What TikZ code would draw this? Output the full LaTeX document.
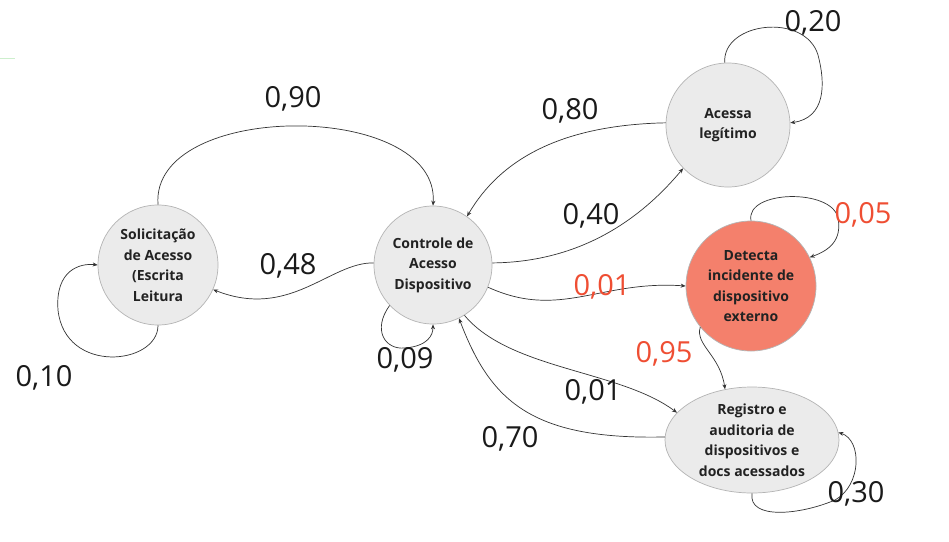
\documentclass[tikz,border=0pt]{standalone}
\usepackage{fontspec}
\setmainfont{Open Sans}
\usetikzlibrary{arrows.meta,shapes.geometric}
\definecolor{nodefill}{HTML}{EBEBEB}
\definecolor{nodeborder}{HTML}{B4B4B4}
\definecolor{nodetext}{HTML}{222222}
\definecolor{salmon}{HTML}{F4806C}
\definecolor{edgecol}{HTML}{333333}
\definecolor{lblcol}{HTML}{1A1A1A}
\definecolor{redtext}{HTML}{EF4E33}
\definecolor{faintgreen}{HTML}{CDEFCD}
\begin{document}
\begin{tikzpicture}[x=1pt,y=-1pt,
  state/.style={circle,draw=nodeborder,fill=nodefill,line width=0.7pt,inner sep=0pt,
    align=center,font=\bfseries\fontsize{14}{20.5}\selectfont,text=nodetext},
  edge/.style={draw=edgecol,line width=0.7pt,-{Stealth[length=5pt,width=4pt]}},
  lbl/.style={font=\fontsize{29}{30}\selectfont,text=lblcol,inner sep=0pt,text depth=0pt},
  redlbl/.style={lbl,text=redtext}
]
\useasboundingbox (0,0) rectangle (949,541);
\fill[white] (0,0) rectangle (949,541);
\coordinate (g1) at (0,58.5);
\coordinate (g2) at (15,58.5);
\draw[faintgreen,line width=0.8pt] (g1) -- (g2);

% nodes
\node[state,minimum size=120pt] (S) at (158,265) {Solicitação\\de Acesso\\(Escrita\\Leitura};
\node[state,minimum size=118pt] (C) at (433,265) {Controle de\\Acesso\\Dispositivo};
\node[state,minimum size=124pt] (A) at (728,125) {Acessa\\legítimo};
\node[state,fill=salmon,minimum size=130pt] (D) at (751,286) {Detecta\\incidente de\\dispositivo\\externo};
\node[state,ellipse,minimum width=174pt,minimum height=106pt] (R) at (752,440) {Registro e\\auditoria de\\dispositivos e\\docs acessados};

% edges
\draw[edge] (S.90) .. controls (150,100) and (440,100) .. (C.90);
\draw[edge] (C.178) .. controls (330,262) and (290,320) .. (S.-24);
\draw[edge] (S.-90) .. controls (158,365) and (65,375) .. (58,310) .. controls (55,270) and (80,263) .. (S.180);
\draw[edge] (C.-137) .. controls (372,330) and (385,350) .. (405,348) .. controls (428,346) and (433,335) .. (C.-90);
\draw[edge] (C.2) .. controls (580,262) and (640,220) .. (A.-136);
\draw[edge] (A.178) .. controls (560,125) and (500,160) .. (C.55);
\draw[edge] (A.93) .. controls (722,22) and (805,12) .. (818,55) .. controls (826,85) and (825,118) .. (A.2);
\draw[edge] (C.-22) .. controls (560,320) and (600,280) .. (D.180);
\draw[edge] (D.90) .. controls (745,190) and (832,188) .. (838,218) .. controls (842,240) and (830,250) .. (D.26);
\draw[edge] (D.-141) .. controls (695,345) and (720,355) .. (R.118);
\draw[edge] (C.-58) .. controls (510,370) and (620,370) .. (R.160);
\draw[edge] (R.178) .. controls (530,440) and (490,400) .. (C.-64);
\draw[edge] (R.-90) .. controls (748,520) and (800,515) .. (835,500) .. controls (862,485) and (862,440) .. (R.5);

% labels
\node[lbl] (l90) at (293,97) {0,90};
\node[lbl] (l48) at (288,264) {0,48};
\node[lbl] (l10) at (44,376) {0,10};
\node[lbl] (l09) at (405,358) {0,09};
\node[lbl] (l80) at (570,109) {0,80};
\node[lbl] (l40) at (591,214) {0,40};
\node[lbl] (l20) at (813,21) {0,20};
\node[redlbl] (l01r) at (602,285) {0,01};
\node[redlbl] (l05) at (863,213) {0,05};
\node[redlbl] (l95) at (664,352) {0,95};
\node[lbl] (l01) at (593,390) {0,01};
\node[lbl] (l70) at (510,437) {0,70};
\node[lbl] (l30) at (856,492) {0,30};
\end{tikzpicture}
\end{document}
